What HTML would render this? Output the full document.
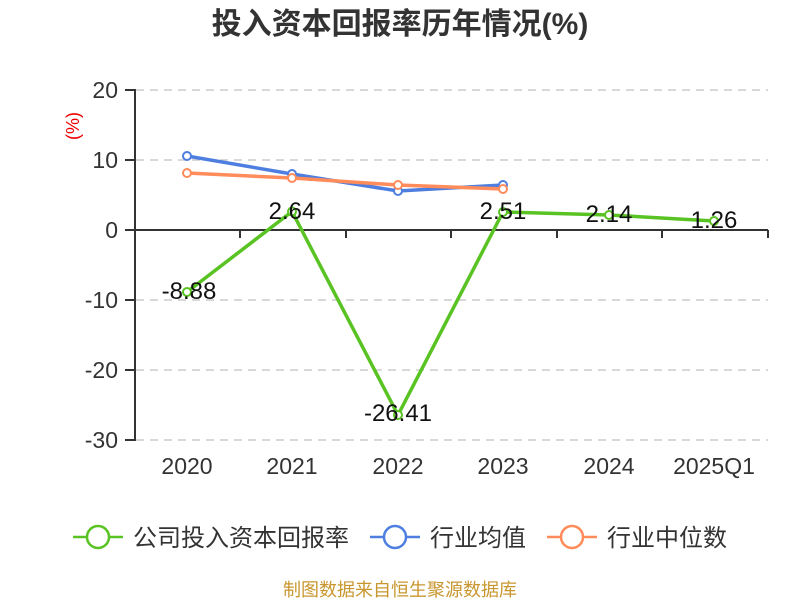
<!DOCTYPE html>
<html><head><meta charset="utf-8"><style>
body{margin:0;background:#fff;}
svg text{font-family:"Liberation Sans","Noto Sans CJK SC",sans-serif;}
</style></head><body>
<svg width="800" height="600" viewBox="0 0 800 600" xmlns="http://www.w3.org/2000/svg">
<text x="400" y="34" text-anchor="middle" font-size="30" font-weight="bold" fill="#333">投入资本回报率历年情况(%)</text>
<g stroke="#ccc" stroke-width="1.5" stroke-dasharray="8,6">
<line x1="136" y1="90" x2="768" y2="90"/><line x1="136" y1="160" x2="768" y2="160"/>
<line x1="136" y1="300" x2="768" y2="300"/><line x1="136" y1="370" x2="768" y2="370"/><line x1="136" y1="440" x2="768" y2="440"/>
</g>
<g stroke="#333" stroke-width="2">
<line x1="135" y1="89" x2="135" y2="441"/>
<line x1="135" y1="230" x2="768" y2="230"/>
<line x1="125" y1="90" x2="135" y2="90"/><line x1="125" y1="160" x2="135" y2="160"/><line x1="125" y1="230" x2="135" y2="230"/>
<line x1="125" y1="300" x2="135" y2="300"/><line x1="125" y1="370" x2="135" y2="370"/><line x1="125" y1="440" x2="135" y2="440"/>
<line x1="240" y1="230" x2="240" y2="238"/><line x1="346" y1="230" x2="346" y2="238"/><line x1="451" y1="230" x2="451" y2="238"/>
<line x1="557" y1="230" x2="557" y2="238"/><line x1="662" y1="230" x2="662" y2="238"/><line x1="768" y1="230" x2="768" y2="238"/>
</g>
<g font-size="23" fill="#333" text-anchor="end">
<text x="118" y="98">20</text><text x="118" y="168">10</text><text x="118" y="238">0</text>
<text x="118" y="308">-10</text><text x="118" y="378">-20</text><text x="118" y="448">-30</text>
</g>
<text transform="translate(79,126) rotate(-90)" text-anchor="middle" font-size="18" fill="#e00">(%)</text>
<g font-size="23" fill="#333" text-anchor="middle">
<text x="187" y="474">2020</text><text x="292" y="474">2021</text><text x="398" y="474">2022</text>
<text x="503" y="474">2023</text><text x="609" y="474">2024</text><text x="714" y="474">2025Q1</text>
</g>
<polyline fill="none" stroke="#4e7fe0" stroke-width="3.5" points="187,156 292,174 398,191 503,185"/>
<polyline fill="none" stroke="#ff8c5a" stroke-width="3.5" points="187,173 292,178 398,185 503,189"/>
<polyline fill="none" stroke="#58c322" stroke-width="3.5" points="187,292 292,211.5 398,415 503,212 609,215 714,221"/>
<g fill="#fff" stroke-width="2">
<g stroke="#4e7fe0"><circle cx="187" cy="156" r="4"/><circle cx="292" cy="174" r="4"/><circle cx="398" cy="191" r="4"/><circle cx="503" cy="185" r="4"/></g>
<g stroke="#ff8c5a"><circle cx="187" cy="173" r="4"/><circle cx="292" cy="178" r="4"/><circle cx="398" cy="185" r="4"/><circle cx="503" cy="189" r="4"/></g>
<g stroke="#58c322"><circle cx="187" cy="292" r="4"/><circle cx="292" cy="211.5" r="4"/><circle cx="398" cy="415" r="4"/><circle cx="503" cy="212" r="4"/><circle cx="609" cy="215" r="4"/><circle cx="714" cy="221" r="4"/></g>
</g>
<g font-size="24" fill="#111" text-anchor="middle">
<text x="189" y="299">-8.88</text><text x="292" y="219">2.64</text><text x="398" y="421">-26.41</text>
<text x="503" y="219">2.51</text><text x="609" y="222">2.14</text><text x="714" y="228">1.26</text>
</g>
<g stroke-width="2.5" fill="#fff">
<line x1="73" y1="537" x2="123" y2="537" stroke="#58c322"/><circle cx="98" cy="537" r="11" stroke="#58c322"/>
<line x1="370" y1="537" x2="420" y2="537" stroke="#4e7fe0"/><circle cx="395" cy="537" r="11" stroke="#4e7fe0"/>
<line x1="547" y1="537" x2="597" y2="537" stroke="#ff8c5a"/><circle cx="572" cy="537" r="11" stroke="#ff8c5a"/>
</g>
<g font-size="24" fill="#333">
<text x="133" y="546">公司投入资本回报率</text><text x="430" y="546">行业均值</text><text x="607" y="546">行业中位数</text>
</g>
<text x="400" y="596" text-anchor="middle" font-size="18" fill="#c8962e">制图数据来自恒生聚源数据库</text>
</svg>
</body></html>
